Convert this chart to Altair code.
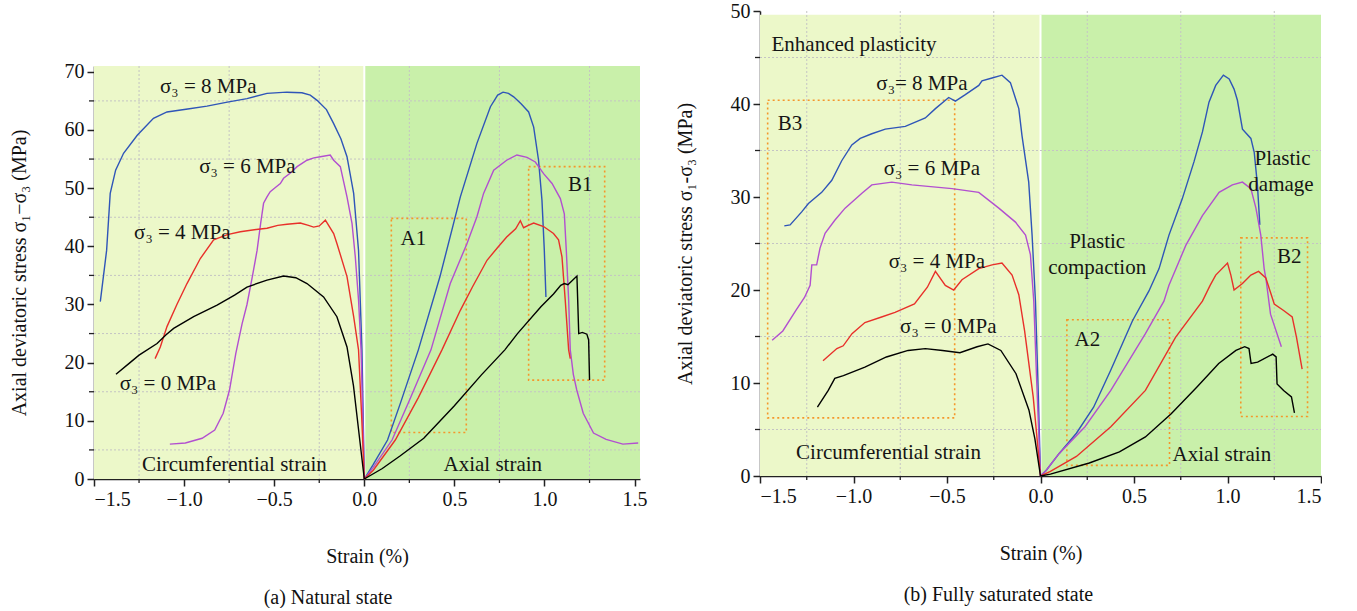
import altair as alt
import pandas as pd

FONT = "Liberation Serif"
BLUE, PURPLE, RED, BLACK = "#2F55B8", "#B24FD0", "#E8302A", "#000000"
BG_LIGHT, BG_GREEN = "#ECF8C9", "#C9F0AA"
BOX_COLOR = "#F5962A"
GRID_COLOR = "#C4C4C4"

# ---------------- panel (a) natural state ----------------
A_B8_CX = [-1.465, -1.43, -1.41, -1.38, -1.336, -1.26, -1.17, -1.095, -0.98, -0.873, -0.76, -0.651, -0.54, -0.43, -0.346, -0.30, -0.262, -0.21, -0.17, -0.13, -0.096, -0.059, -0.032, -0.013, 0]
A_B8_CY = [30.5, 39.3, 49.1, 53.1, 56.0, 59.1, 62.0, 63.1, 63.6, 64.1, 64.8, 65.4, 66.3, 66.5, 66.4, 66.0, 65.1, 63.5, 61.1, 58.5, 55.4, 49.1, 39.3, 22.2, 0]
A_B8_AX = [0, 0.05, 0.129, 0.2, 0.30, 0.42, 0.533, 0.625, 0.70, 0.74, 0.77, 0.80, 0.829, 0.87, 0.912, 0.94, 0.967, 0.986, 0.999, 1.008]
A_B8_AY = [0, 2.5, 6.7, 13.0, 22.2, 34.8, 48.5, 57.7, 64.0, 66.0, 66.5, 66.3, 65.7, 64.5, 63.1, 60.5, 54.8, 47.9, 39.3, 31.3]

A_P6_CX = [-1.079, -0.993, -0.9, -0.83, -0.783, -0.748, -0.713, -0.678, -0.651, -0.62, -0.595, -0.575, -0.559, -0.54, -0.522, -0.49, -0.466, -0.448, -0.41, -0.373, -0.318, -0.28, -0.244, -0.189, -0.17, -0.133, -0.096, -0.068, -0.05, -0.032, -0.018, 0]
A_P6_CY = [6.0, 6.2, 7.0, 8.4, 11.3, 15.3, 21.6, 26.7, 30.0, 35.0, 39.3, 44.0, 47.4, 48.5, 49.4, 50.2, 50.8, 51.7, 52.6, 53.7, 54.8, 55.2, 55.4, 55.7, 54.8, 53.7, 48.5, 43.9, 38.2, 30.8, 22.2, 0]
A_P6_AX = [0, 0.05, 0.154, 0.25, 0.37, 0.477, 0.57, 0.625, 0.662, 0.718, 0.79, 0.847, 0.903, 0.949, 0.995, 1.042, 1.088, 1.11, 1.121, 1.134, 1.143, 1.16, 1.179, 1.215, 1.272, 1.342, 1.435, 1.52]
A_P6_AY = [0, 2.0, 6.7, 13.5, 22.2, 33.6, 40.5, 45.1, 49.1, 53.1, 54.8, 55.7, 55.3, 54.5, 52.5, 50.8, 48.2, 45.6, 39.3, 30.8, 22.2, 18.0, 15.3, 11.3, 7.9, 6.8, 6.0, 6.2]

A_R4_CX = [-1.161, -1.132, -1.095, -1.04, -0.984, -0.91, -0.836, -0.76, -0.688, -0.6, -0.54, -0.48, -0.429, -0.355, -0.31, -0.281, -0.25, -0.216, -0.17, -0.152, -0.096, -0.059, -0.032, -0.015, 0]
A_R4_CY = [20.7, 22.7, 26.2, 30.0, 33.6, 37.9, 41.1, 42.0, 42.5, 42.9, 43.1, 43.6, 43.8, 44.0, 43.6, 43.3, 43.5, 44.5, 42.2, 40.5, 34.8, 27.9, 22.2, 11.0, 0]
A_R4_AX = [0, 0.05, 0.172, 0.3, 0.431, 0.533, 0.60, 0.681, 0.74, 0.79, 0.84, 0.866, 0.884, 0.91, 0.94, 0.995, 1.05, 1.078, 1.097, 1.115, 1.134, 1.143]
A_R4_AY = [0, 1.5, 6.7, 14.0, 22.2, 29.0, 33.0, 37.6, 39.8, 41.6, 43.0, 44.4, 43.2, 43.6, 44.0, 43.4, 42.2, 41.1, 38.2, 30.8, 22.2, 20.7]

A_K0_CX = [-1.378, -1.30, -1.25, -1.15, -1.10, -1.058, -0.947, -0.817, -0.72, -0.651, -0.54, -0.448, -0.38, -0.318, -0.226, -0.152, -0.096, -0.06, -0.03, 0]
A_K0_CY = [18.0, 20.0, 21.3, 23.3, 24.8, 25.9, 27.9, 29.9, 31.6, 33.0, 34.2, 34.9, 34.6, 33.6, 31.3, 27.9, 22.7, 16.0, 8.0, 0]
A_K0_AX = [0, 0.1, 0.2, 0.33, 0.5, 0.65, 0.78, 0.85, 0.98, 1.05, 1.09, 1.11, 1.13, 1.18, 1.185, 1.19, 1.21, 1.235, 1.245, 1.25]
A_K0_AY = [0, 1.8, 4.0, 7.0, 12.6, 17.9, 22.2, 25.0, 29.6, 31.8, 33.3, 33.6, 33.4, 34.9, 30.0, 25.0, 25.2, 24.9, 23.9, 17.0]

A_LABELS = ["σ₃ = 8 MPa", "σ₃ = 6 MPa", "σ₃ = 4 MPa", "σ₃ = 0 MPa", "Circumferential strain", "Axial strain", "A1", "B1"]
A_LABEL_X = [-0.866, -0.649, -1.01, -1.09, -0.721, 0.713, 0.272, 1.199]
A_LABEL_Y = [67.4, 53.6, 42.3, 16.4, 2.4, 2.4, 41.2, 50.5]

A_BOX_X1 = [0.15, 0.912]
A_BOX_X2 = [0.566, 1.334]
A_BOX_Y1 = [8.0, 17.0]
A_BOX_Y2 = [44.8, 53.7]

# ---------------- panel (b) fully saturated ----------------
B_B8_CX = [-1.37, -1.339, -1.277, -1.241, -1.17, -1.116, -1.063, -1.009, -0.964, -0.902, -0.83, -0.723, -0.616, -0.562, -0.491, -0.455, -0.402, -0.33, -0.313, -0.259, -0.206, -0.161, -0.116, -0.099, -0.063, -0.045, -0.027, -0.012, 0]
B_B8_CY = [26.9, 27.0, 28.4, 29.3, 30.5, 31.8, 33.9, 35.6, 36.3, 36.8, 37.3, 37.6, 38.5, 39.5, 40.7, 40.3, 41.0, 42.0, 42.5, 42.8, 43.1, 42.3, 39.5, 36.6, 31.6, 25.9, 18.8, 9.0, 0]
B_B8_AX = [0, 0.03, 0.099, 0.192, 0.284, 0.376, 0.492, 0.58, 0.634, 0.687, 0.758, 0.821, 0.866, 0.901, 0.937, 0.978, 1.009, 1.035, 1.053, 1.08, 1.125, 1.143, 1.16, 1.173]
B_B8_AY = [0, 0.6, 2.4, 4.6, 7.4, 11.4, 16.7, 19.9, 22.3, 25.9, 29.8, 33.8, 37.0, 40.2, 42.0, 43.1, 42.7, 41.6, 40.4, 37.3, 36.3, 34.8, 31.3, 27.0]

B_P6_CX = [-1.435, -1.378, -1.308, -1.262, -1.232, -1.223, -1.197, -1.179, -1.152, -1.10, -1.045, -0.955, -0.902, -0.795, -0.688, -0.473, -0.33, -0.223, -0.134, -0.08, -0.054, -0.036, -0.02, 0]
B_P6_CY = [14.6, 15.6, 17.8, 19.2, 20.5, 22.7, 22.7, 24.5, 26.1, 27.5, 28.8, 30.4, 31.3, 31.6, 31.3, 30.9, 30.5, 28.8, 27.3, 25.9, 23.8, 18.8, 10.0, 0]
B_P6_AX = [0, 0.03, 0.099, 0.238, 0.376, 0.561, 0.66, 0.687, 0.777, 0.866, 0.955, 1.026, 1.08, 1.125, 1.152, 1.178, 1.196, 1.207, 1.23, 1.288]
B_P6_AY = [0, 0.6, 2.4, 5.3, 9.2, 15.3, 18.8, 20.5, 24.8, 28.0, 30.5, 31.3, 31.6, 30.9, 28.8, 25.9, 22.3, 21.0, 17.4, 13.9]

B_R4_CX = [-1.163, -1.089, -1.055, -1.008, -0.939, -0.85, -0.778, -0.674, -0.605, -0.562, -0.509, -0.464, -0.42, -0.33, -0.259, -0.206, -0.152, -0.116, -0.085, -0.039, 0]
B_R4_CY = [12.4, 13.7, 14.0, 15.3, 16.5, 17.1, 17.6, 18.5, 20.3, 22.0, 20.5, 20.0, 21.1, 22.3, 22.7, 22.9, 21.6, 19.5, 15.6, 8.5, 0]
B_R4_AX = [0, 0.053, 0.192, 0.376, 0.561, 0.722, 0.866, 0.907, 0.937, 1.0, 1.018, 1.035, 1.08, 1.125, 1.166, 1.205, 1.25, 1.30, 1.346, 1.369, 1.399]
B_R4_AY = [0, 0.5, 2.1, 5.3, 9.2, 14.9, 18.8, 20.5, 21.6, 22.9, 21.6, 20.0, 20.7, 21.6, 22.0, 21.3, 18.5, 17.8, 17.1, 14.9, 11.5]

B_K0_CX = [-1.193, -1.135, -1.1, -1.054, -0.939, -0.824, -0.708, -0.616, -0.524, -0.431, -0.339, -0.281, -0.212, -0.131, -0.062, -0.03, 0]
B_K0_CY = [7.4, 9.2, 10.5, 10.8, 11.7, 12.8, 13.5, 13.7, 13.5, 13.25, 13.9, 14.2, 13.5, 11.0, 7.1, 4.0, 0]
B_K0_AX = [0, 0.053, 0.261, 0.422, 0.561, 0.699, 0.838, 0.953, 1.045, 1.092, 1.115, 1.126, 1.161, 1.242, 1.26, 1.265, 1.30, 1.342, 1.358]
B_K0_AY = [0, 0.2, 1.4, 2.6, 4.2, 6.7, 9.6, 12.1, 13.5, 13.9, 13.7, 12.1, 12.25, 13.1, 12.8, 9.9, 9.2, 8.5, 6.8]

B_LABELS = ["Enhanced plasticity", "σ₃= 8 MPa", "B3", "σ₃ = 6 MPa", "σ₃ = 4 MPa", "σ₃ = 0 MPa",
            "Circumferential strain", "Axial strain", "A2", "B2", "Plastic", "compaction", "Plastic", "damage"]
B_LABEL_X = [-0.997, -0.634, -1.339, -0.581, -0.554, -0.493, -0.813, 0.97, 0.251, 1.33, 0.303, 0.303, 1.294, 1.286]
B_LABEL_Y = [46.3, 42.2, 37.9, 33.0, 23.0, 16.0, 2.5, 2.25, 14.6, 23.5, 25.2, 22.4, 34.1, 31.3]

B_BOX_X1 = [0.141, 1.071, -1.459]
B_BOX_X2 = [0.69, 1.428, -0.459]
B_BOX_Y1 = [1.14, 6.4, 6.25]
B_BOX_Y2 = [16.8, 25.6, 40.4]

X_TICKS = [-1.5, -1.0, -0.5, 0.0, 0.5, 1.0, 1.5]
X_MINOR = [-1.25, -0.75, -0.25, 0.25, 0.75, 1.25]
A_Y_TICKS = [0, 10, 20, 30, 40, 50, 60, 70]
A_Y_MINOR = [5, 15, 25, 35, 45, 55, 65]
B_Y_TICKS = [0, 10, 20, 30, 40, 50]
B_Y_MINOR = [5, 15, 25, 35, 45]

SERIES = ["8", "6", "4", "0"]
COLORS = [BLUE, PURPLE, RED, BLACK]


def curves_df(blocks):
    rows = []
    for name, branch, xs, ys in blocks:
        for i, (xv, yv) in enumerate(zip(xs, ys)):
            rows.append({"series": name, "branch": name + branch, "i": i, "x": xv, "y": yv})
    return pd.DataFrame(rows)


def panel(blocks, labels, lx, ly, bx1, bx2, by1, by2, xdom, ydom, ybg, yticks, yminor,
          width, height, ytitle, caption):
    xenc = alt.X("x:Q", scale=alt.Scale(domain=xdom, nice=False, zero=False),
                 axis=alt.Axis(values=X_TICKS, format=".1f", title="Strain (%)", grid=False,
                               titlePadding=37))
    yenc = alt.Y("y:Q", scale=alt.Scale(domain=ydom, nice=False, zero=False),
                 axis=alt.Axis(values=yticks, format="d", title=ytitle, grid=False,
                               titlePadding=35))

    bg = pd.DataFrame({"x": [xdom[0], 0.0], "x2": [0.0, xdom[1]], "y": [0, 0], "y2": [ybg, ybg],
                       "c": [BG_LIGHT, BG_GREEN]})
    bg_layer = alt.Chart(bg).mark_rect().encode(
        x=xenc, x2="x2", y=yenc, y2="y2", color=alt.Color("c:N", scale=None))

    sep = alt.Chart(pd.DataFrame({"x": [0.0], "y": [0.0], "y2": [ybg]})).mark_rule(
        color="white", strokeWidth=2).encode(x=xenc, y=yenc, y2="y2")

    vgrid = alt.Chart(pd.DataFrame({"x": X_MINOR})).mark_rule(
        color=GRID_COLOR, strokeDash=[2, 2], strokeWidth=1).encode(
        x=xenc, y=alt.value(0), y2=alt.value(height))
    hgrid = alt.Chart(pd.DataFrame({"y": yminor})).mark_rule(
        color=GRID_COLOR, strokeDash=[2, 2], strokeWidth=1).encode(
        y=yenc, x=alt.value(0), x2=alt.value(width))

    xminor = alt.Chart(pd.DataFrame({"x": X_MINOR})).mark_rule(
        color="#222222", strokeWidth=1.3).encode(
        x=xenc, y=alt.value(height), y2=alt.value(height + 4))
    yminor_t = alt.Chart(pd.DataFrame({"y": yminor})).mark_rule(
        color="#222222", strokeWidth=1.3).encode(
        y=yenc, x=alt.value(0), x2=alt.value(-5))

    boxes = alt.Chart(pd.DataFrame({"x": bx1, "x2": bx2, "y": by1, "y2": by2})).mark_rect(
        fill="transparent", stroke=BOX_COLOR, strokeWidth=1.6, strokeDash=[2, 3]).encode(
        x=xenc, x2="x2", y=yenc, y2="y2")

    lines = alt.Chart(curves_df(blocks)).mark_line(strokeWidth=1.4).encode(
        x=xenc, y=yenc,
        color=alt.Color("series:N", scale=alt.Scale(domain=SERIES, range=COLORS), legend=None),
        detail="branch:N", order="i:Q")

    texts = alt.Chart(pd.DataFrame({"x": lx, "y": ly, "t": labels})).mark_text(
        font=FONT, fontSize=21, color="#151515").encode(x=xenc, y=yenc, text="t:N")

    layers = [bg_layer, sep, vgrid, hgrid, boxes, lines, texts, xminor, yminor_t]

    return alt.layer(*layers).properties(
        width=width, height=height,
        title=alt.TitleParams(text=caption, orient="bottom", font=FONT, fontSize=20,
                              fontWeight="normal", color="#111111", offset=22, anchor="middle",
                              frame="bounds"))


left_panel = panel(
    [("8", "c", A_B8_CX, A_B8_CY), ("8", "a", A_B8_AX, A_B8_AY),
     ("6", "c", A_P6_CX, A_P6_CY), ("6", "a", A_P6_AX, A_P6_AY),
     ("4", "c", A_R4_CX, A_R4_CY), ("4", "a", A_R4_AX, A_R4_AY),
     ("0", "c", A_K0_CX, A_K0_CY), ("0", "a", A_K0_AX, A_K0_AY)],
    A_LABELS, A_LABEL_X, A_LABEL_Y, A_BOX_X1, A_BOX_X2, A_BOX_Y1, A_BOX_Y2,
    [-1.5, 1.53], [0, 71], 71, A_Y_TICKS, A_Y_MINOR, 546, 413,
    "Axial deviatoric stress σ₁−σ₃ (MPa)", "(a) Natural state")

spacer = alt.Chart(pd.DataFrame({"a": [0]})).mark_point(opacity=0).encode(
    x=alt.value(0), y=alt.value(0)).properties(width=546, height=50)

left = alt.vconcat(spacer, left_panel, spacing=0)

right = panel(
    [("8", "c", B_B8_CX, B_B8_CY), ("8", "a", B_B8_AX, B_B8_AY),
     ("6", "c", B_P6_CX, B_P6_CY), ("6", "a", B_P6_AX, B_P6_AY),
     ("4", "c", B_R4_CX, B_R4_CY), ("4", "a", B_R4_AX, B_R4_AY),
     ("0", "c", B_K0_CX, B_K0_CY), ("0", "a", B_K0_AX, B_K0_AY)],
    B_LABELS, B_LABEL_X, B_LABEL_Y, B_BOX_X1, B_BOX_X2, B_BOX_Y1, B_BOX_Y2,
    [-1.5, 1.5], [0, 50], 49.6, B_Y_TICKS, B_Y_MINOR, 561, 465,
    "Axial deviatoric stress σ₁-σ₃ (MPa)", "(b) Fully saturated state")

chart = alt.hconcat(left, right, spacing=27).properties(
    padding={"left": 9, "top": 1, "right": 0, "bottom": 0},
    background="white",
).configure_view(stroke=None).configure_axis(
    labelFont=FONT, labelFontSize=20, labelColor="#111111",
    titleFont=FONT, titleFontSize=20, titleFontWeight="normal", titleColor="#111111",
    domainColor="#222222", domainWidth=1.5, tickColor="#222222", tickWidth=1.5, tickSize=7,
    labelPadding=3,
)

chart.save("out.html", embed_options={"renderer": "svg", "actions": False})
